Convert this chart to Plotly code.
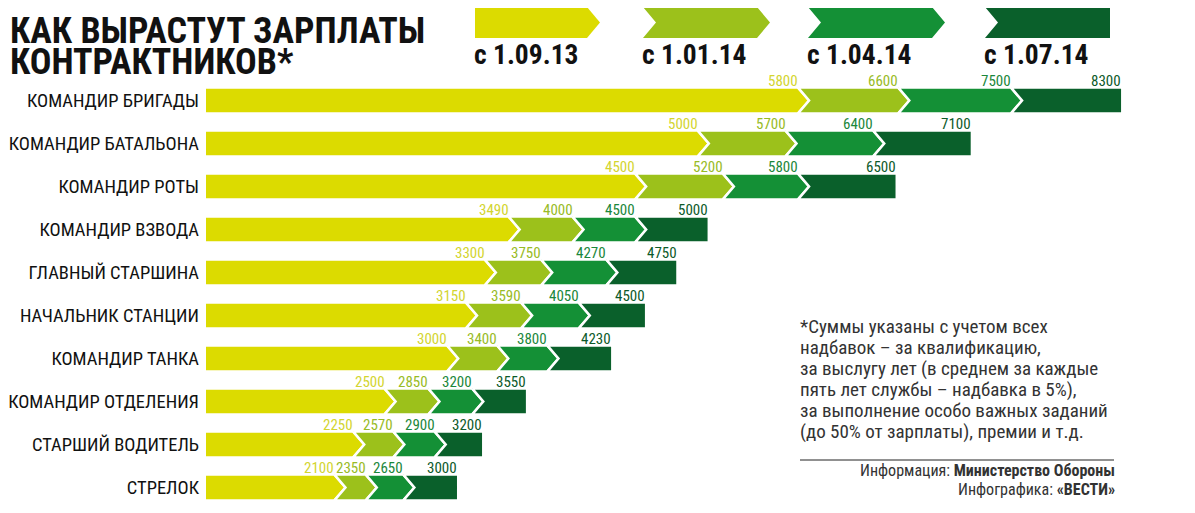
import plotly.graph_objects as go

# ---------------- data ----------------
positions = ["КОМАНДИР БРИГАДЫ", "КОМАНДИР БАТАЛЬОНА", "КОМАНДИР РОТЫ", "КОМАНДИР ВЗВОДА",
             "ГЛАВНЫЙ СТАРШИНА", "НАЧАЛЬНИК СТАНЦИИ", "КОМАНДИР ТАНКА",
             "КОМАНДИР ОТДЕЛЕНИЯ", "СТАРШИЙ ВОДИТЕЛЬ", "СТРЕЛОК"]
sep13 = [5800, 5000, 4500, 3490, 3300, 3150, 3000, 2500, 2250, 2100]
jan14 = [6600, 5700, 5200, 4000, 3750, 3590, 3400, 2850, 2570, 2350]
apr14 = [7500, 6400, 5800, 4500, 4270, 4050, 3800, 3200, 2900, 2650]
jul14 = [8300, 7100, 6500, 5000, 4750, 4500, 4230, 3550, 3200, 3000]
dates = ["с 1.09.13", "с 1.01.14", "с 1.04.14", "с 1.07.14"]
series = [sep13, jan14, apr14, jul14]
note_lines = ["*Суммы указаны с учетом всех",
              "надбавок – за квалификацию,",
              "за выслугу лет (в среднем за каждые",
              "пять лет службы – надбавка в 5%),",
              "за выполнение особо важных заданий",
              "(до 50% от зарплаты), премии и т.д."]

# ---------------- style ----------------
colors = ["#dcdb00", "#9cc11b", "#149036", "#0a602b"]
label_colors = ["#d3d530", "#98bb26", "#1b873b", "#0d5a2a"]
COND = "Liberation Sans Narrow, Roboto Condensed, DejaVu Sans Condensed, Roboto, sans-serif"
OFF = 8                              # page body margin
W, H = 1195 - OFF, 513 - OFF
ML, MT, MB = 206 - OFF, 79 - OFF, 4
MR = W - (1150 - OFF)
PW, PH = W - ML - MR, H - MT - MB
XMIN, XMAX = 987, 8521
HALF = 0.30                      # half bar height (row units)
tip = 11 * (XMAX - XMIN) / PW    # arrow tip length in data units


def px(xr):  # reference-image pixel -> paper x
    return (xr - OFF - ML) / PW


def py(yr):  # reference-image pixel -> paper y
    return (H - MB - (yr - OFF)) / PH


fig = go.Figure()

n = len(positions)
for s, vals in enumerate(series):
    xs, ys = [], []
    for i in range(n):
        x1 = vals[i]
        top, bot = i - HALF, i + HALF
        if s == 0:
            x0 = XMIN - 200
            pts = [(x0, top), (x1 - tip, top), (x1, i), (x1 - tip, bot), (x0, bot)]
        else:
            x0 = series[s - 1][i]
            if s == len(series) - 1:
                pts = [(x0 - tip, top), (x1, top), (x1, bot), (x0 - tip, bot), (x0, i)]
            else:
                pts = [(x0 - tip, top), (x1 - tip, top), (x1, i), (x1 - tip, bot),
                       (x0 - tip, bot), (x0, i)]
        pts.append(pts[0])
        xs += [p[0] for p in pts] + [None]
        ys += [p[1] for p in pts] + [None]
    fig.add_trace(go.Scatter(x=xs, y=ys, mode="lines", fill="toself",
                             fillcolor=colors[s], line=dict(color="white", width=2.5),
                             hoverinfo="skip", showlegend=False))

# value labels
annotations = []
for s, vals in enumerate(series):
    for i in range(n):
        annotations.append(dict(
            x=vals[i], y=i - HALF, xref="x", yref="y", text=str(vals[i]),
            showarrow=False, xanchor="right", yanchor="bottom",
            xshift=(-9 if s < len(series) - 1 else 1), yshift=-4,
            font=dict(family=COND, size=15, color=label_colors[s])))

# title
annotations.append(dict(x=px(8), y=py(8), xref="paper", yref="paper", xanchor="left",
                        yanchor="top", showarrow=False, text="<b>КАК ВЫРАСТУТ ЗАРПЛАТЫ</b>",
                        font=dict(family=COND, size=36, color="#111")))
annotations.append(dict(x=px(8), y=py(39), xref="paper", yref="paper", xanchor="left",
                        yanchor="top", showarrow=False, text="<b>КОНТРАКТНИКОВ*</b>",
                        font=dict(family=COND, size=36, color="#111")))

# legend arrows
shapes = []
leg_x = [(475, 600), (643, 770), (808, 945), (985, 1110)]
ly0, ly1 = 7, 38
lt = 13
for k, (a, b) in enumerate(leg_x):
    ym = (ly0 + ly1) / 2
    if k == 0:
        pts = [(a, ly0), (b - lt, ly0), (b, ym), (b - lt, ly1), (a, ly1)]
    elif k == 3:
        pts = [(a, ly0), (b, ly0), (b, ly1), (a, ly1), (a + lt, ym)]
    else:
        pts = [(a, ly0), (b - lt, ly0), (b, ym), (b - lt, ly1), (a, ly1), (a + lt, ym)]
    path = "M " + " L ".join(f"{px(p[0]):.5f},{py(p[1]):.5f}" for p in pts) + " Z"
    shapes.append(dict(type="path", xref="paper", yref="paper", path=path,
                       fillcolor=colors[k], line=dict(width=0), layer="above"))
    annotations.append(dict(x=px(a - 3), y=py(55), xref="paper", yref="paper",
                            xanchor="left", yanchor="middle", showarrow=False,
                            text=f"<b>{dates[k]}</b>",
                            font=dict(family=COND, size=27.5, color="#111")))

# footnote
for j, line in enumerate(note_lines):
    annotations.append(dict(x=px(798), y=py(326 + 21 * j), xref="paper", yref="paper",
                            xanchor="left", yanchor="middle", align="left",
                            showarrow=False, text=line,
                            font=dict(family=COND, size=19, color="#333")))
shapes.append(dict(type="line", xref="paper", yref="paper", x0=px(800), x1=px(1114),
                   y0=py(460), y1=py(460), line=dict(color="#222", width=1)))
annotations.append(dict(x=px(1117), y=py(470), xref="paper", yref="paper", xanchor="right",
                        yanchor="middle", showarrow=False,
                        text="Информация: <b>Министерство Обороны</b>",
                        font=dict(family=COND, size=16, color="#333")))
annotations.append(dict(x=px(1117), y=py(489), xref="paper", yref="paper", xanchor="right",
                        yanchor="middle", showarrow=False,
                        text="Инфографика: <b>«ВЕСТИ»</b>",
                        font=dict(family=COND, size=16, color="#333")))

fig.update_layout(
    width=W, height=H, autosize=False,
    margin=dict(l=ML, r=MR, t=MT, b=MB, pad=0, autoexpand=False),
    paper_bgcolor="white", plot_bgcolor="white",
    xaxis=dict(range=[XMIN, XMAX], visible=False, fixedrange=True, automargin=False),
    yaxis=dict(range=[n - 0.5, -0.5], tickvals=list(range(n)), ticktext=positions,
               showgrid=False, zeroline=False, showline=False, ticks="",
               ticklabelstandoff=6, automargin=False,
               tickfont=dict(family=COND, size=18.5, color="#111"), fixedrange=True),
    shapes=shapes, annotations=annotations, showlegend=False,
)

fig.write_html("out.html")
